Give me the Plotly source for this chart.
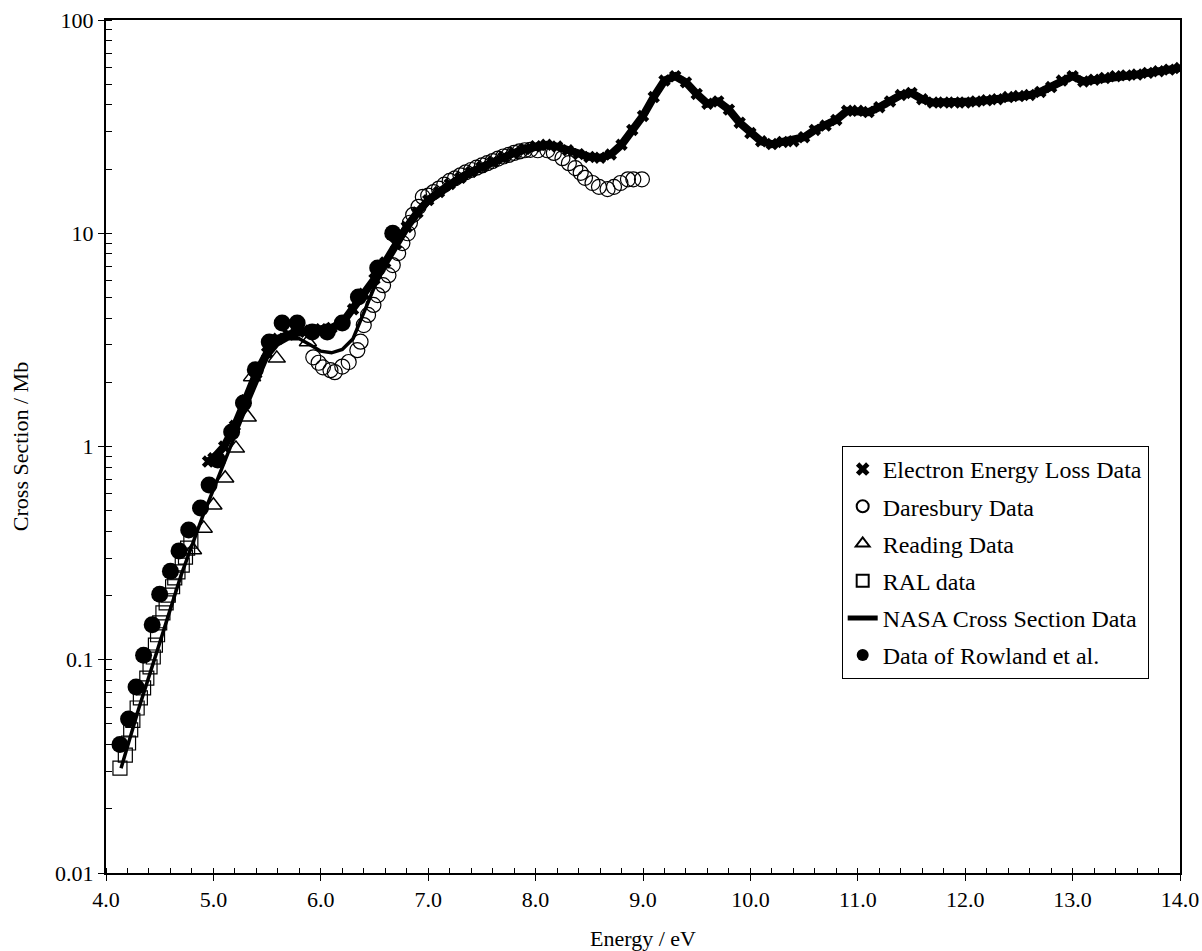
import plotly.graph_objects as go

# ---------------- data ----------------
eels_e = [4.95, 5.0, 5.1, 5.2, 5.3, 5.4, 5.5, 5.6, 5.7, 5.8, 5.9, 6.0, 6.1, 6.2, 6.3, 6.4, 6.5, 6.6, 6.7, 6.8,
          6.9, 7.0, 7.1, 7.2, 7.3, 7.4, 7.5, 7.6, 7.7, 7.8, 7.9, 8.0, 8.1, 8.2, 8.3, 8.4, 8.5, 8.6, 8.7, 8.8,
          8.9, 9.0, 9.1, 9.2, 9.3, 9.4, 9.5, 9.6, 9.7, 9.8, 9.9, 10.0, 10.1, 10.2, 10.3, 10.4, 10.5, 10.6,
          10.7, 10.8, 10.9, 11.0, 11.1, 11.2, 11.3, 11.4, 11.5, 11.6, 11.7, 11.8, 11.9, 12.0, 12.1, 12.2,
          12.3, 12.4, 12.5, 12.6, 12.7, 12.8, 12.9, 13.0, 13.1, 13.2, 13.3, 13.4, 13.5, 13.6, 13.7, 13.8,
          13.9, 14.0]
eels_s = [0.85, 0.88, 1.0, 1.25, 1.65, 2.2, 2.75, 3.2, 3.35, 3.45, 3.5, 3.55, 3.6, 3.8, 4.4, 5.2, 6.1, 7.3,
          8.9, 10.7, 12.5, 14.3, 15.6, 17.0, 18.2, 19.4, 20.5, 21.6, 22.7, 23.8, 24.8, 25.6, 26.0, 25.5,
          24.5, 23.5, 22.8, 22.6, 23.4, 26.0, 30.5, 35.5, 43.5, 52.0, 54.5, 51.0, 45.0, 40.5, 41.5, 38.0,
          33.0, 29.5, 27.0, 26.2, 26.8, 27.0, 28.2, 30.5, 32.0, 34.0, 37.5, 37.5, 37.0, 39.0, 41.5, 44.5,
          45.5, 42.5, 41.0, 41.0, 41.0, 41.0, 41.5, 42.0, 42.5, 43.5, 44.0, 44.5, 46.0, 48.5, 52.0, 54.5,
          51.5, 52.5, 53.5, 54.5, 55.0, 55.5, 56.5, 57.5, 58.5, 59.5]

dares_e = [5.93, 5.98, 6.02, 6.09, 6.13, 6.20, 6.26, 6.34, 6.37, 6.40, 6.44, 6.49, 6.53, 6.58, 6.63, 6.67,
           6.72, 6.76, 6.81, 6.83, 6.86, 6.91, 6.95, 7.0, 7.05, 7.1, 7.15, 7.2, 7.25, 7.3, 7.35, 7.4, 7.45,
           7.5, 7.55, 7.6, 7.65, 7.7, 7.75, 7.8, 7.85, 7.9, 7.95, 8.02, 8.11, 8.17, 8.25, 8.31, 8.37, 8.42,
           8.46, 8.53, 8.59, 8.67, 8.73, 8.79, 8.86, 8.91, 8.99]
dares_s = [2.62, 2.47, 2.35, 2.28, 2.23, 2.37, 2.49, 2.83, 3.1, 3.71, 4.14, 4.61, 5.13, 5.71, 6.36, 7.09,
           8.07, 8.99, 10.0, 11.2, 12.2, 13.3, 14.8, 15.0, 15.6, 16.2, 16.9, 17.6, 18.1, 18.7, 19.3, 19.8,
           20.3, 20.8, 21.3, 21.8, 22.4, 22.9, 23.3, 23.8, 24.2, 24.5, 24.6, 24.5, 24.5, 23.8, 22.5, 21.3,
           20.2, 19.2, 18.2, 17.2, 16.5, 16.1, 16.5, 17.2, 17.9, 17.9, 17.9]

reading_e = [4.81, 4.91, 5.0, 5.11, 5.21, 5.32, 5.36, 5.59, 5.88]
reading_s = [0.327, 0.413, 0.53, 0.71, 0.98, 1.37, 2.12, 2.59, 3.09]

ral_e = [4.13, 4.18, 4.21, 4.23, 4.25, 4.29, 4.32, 4.35, 4.38, 4.41, 4.44, 4.46, 4.48, 4.50, 4.53, 4.56,
         4.58, 4.62, 4.64, 4.67, 4.71, 4.74, 4.76, 4.79]
ral_s = [0.031, 0.0357, 0.0407, 0.0469, 0.052, 0.0594, 0.0662, 0.0738, 0.082, 0.0925, 0.103, 0.117, 0.131,
         0.149, 0.166, 0.185, 0.201, 0.22, 0.242, 0.258, 0.278, 0.303, 0.334, 0.36]

nasa_e = [4.14, 4.3, 4.5, 4.7, 4.9, 5.1, 5.3, 5.5, 5.6, 5.7, 5.8, 5.9, 6.0, 6.1, 6.2, 6.3, 6.4, 6.5, 6.6,
          6.7, 6.8, 6.9, 7.0, 7.2, 7.4, 7.6, 7.8, 8.0, 8.1]
nasa_s = [0.031, 0.058, 0.12, 0.25, 0.47, 0.85, 1.5, 2.6, 3.0, 3.2, 3.2, 3.0, 2.8, 2.75, 2.85, 3.2, 4.2,
          5.6, 7.0, 8.8, 10.5, 12.3, 13.8, 16.3, 18.8, 21.2, 23.3, 24.8, 25.0]

rowland_e = [4.13, 4.21, 4.28, 4.35, 4.43, 4.50, 4.60, 4.68, 4.77, 4.88, 4.96, 5.04, 5.17, 5.28, 5.39,
             5.52, 5.64, 5.78, 5.92, 6.06, 6.20, 6.35, 6.53, 6.67]
rowland_s = [0.040, 0.0527, 0.0745, 0.105, 0.146, 0.203, 0.26, 0.324, 0.406, 0.515, 0.66, 0.865, 1.17,
             1.60, 2.29, 3.09, 3.79, 3.79, 3.44, 3.44, 3.79, 5.02, 6.87, 10.0]

x_ticks = [4.0, 5.0, 6.0, 7.0, 8.0, 9.0, 10.0, 11.0, 12.0, 13.0, 14.0]
y_ticks = [0.01, 0.1, 1, 10, 100]
y_ticktext = ["0.01", "0.1", "1", "10", "100"]

FONT = "Liberation Serif, Times New Roman, serif"

fig = go.Figure()

fig.add_trace(go.Scatter(x=ral_e, y=ral_s, mode="markers", name="RAL data", legendrank=4, legendgroup="ral",
                         marker=dict(symbol="square-open", size=14, color="black", line=dict(width=1.2))))
fig.add_trace(go.Scatter(x=reading_e, y=reading_s, mode="markers", name="Reading Data", legendrank=3,
                         legendgroup="reading",
                         marker=dict(symbol="triangle-up-open", size=15, color="black", line=dict(width=1.5))))
fig.add_trace(go.Scatter(x=dares_e, y=dares_s, mode="markers", name="Daresbury Data", legendrank=2,
                         legendgroup="dares",
                         marker=dict(symbol="circle-open", size=15, color="black", line=dict(width=1.2))))
fig.add_trace(go.Scatter(x=nasa_e, y=nasa_s, mode="lines", name="NASA Cross Section Data", legendrank=5,
                         legendgroup="nasa", line=dict(color="black", width=3.5)))
fig.add_trace(go.Scatter(x=eels_e, y=eels_s, mode="lines", showlegend=False, hoverinfo="skip",
                         legendgroup="eels", line=dict(color="black", width=8)))
fig.add_trace(go.Scatter(x=eels_e, y=eels_s, mode="markers", name="Electron Energy Loss Data", legendrank=1,
                         legendgroup="eels", marker=dict(symbol="x", size=11, color="black")))
fig.add_trace(go.Scatter(x=rowland_e, y=rowland_s, mode="markers", name="Data of Rowland et al.", legendrank=6,
                         legendgroup="rowland", marker=dict(symbol="circle", size=17, color="black")))

fig.update_layout(
    width=1202, height=951,
    margin=dict(l=106, r=22, t=20, b=78, autoexpand=False),
    paper_bgcolor="white", plot_bgcolor="white",
    font=dict(family=FONT, size=22, color="black"),
    showlegend=True,
    legend=dict(x=0.685, y=0.5006, xanchor="left", yanchor="top",
                bgcolor="white", bordercolor="black", borderwidth=1,
                font=dict(family=FONT, size=24, color="black"),
                itemsizing="constant", traceorder="grouped", tracegroupgap=3),
)

fig.update_xaxes(
    range=[4, 14], tickvals=x_ticks, tickformat=".1f", automargin=False,
    showgrid=False, zeroline=False,
    showline=True, linecolor="black", linewidth=2, mirror=True,
    ticks="outside", ticklen=6, tickwidth=1, tickcolor="black",
    minor=dict(ticks="inside", ticklen=5, tickwidth=1, tickcolor="black", dtick=0.2, showgrid=False),
    tickfont=dict(family=FONT, size=22, color="black"),
    title=dict(text="Energy / eV", font=dict(family=FONT, size=22, color="black"), standoff=20),
)
fig.update_yaxes(
    type="log", range=[-2, 2], tickvals=y_ticks, ticktext=y_ticktext, automargin=False,
    showgrid=False, zeroline=False,
    showline=True, linecolor="black", linewidth=2, mirror=True,
    ticks="outside", ticklen=6, tickwidth=1, tickcolor="black",
    minor=dict(ticks="inside", ticklen=6, tickwidth=1, tickcolor="black", dtick="D1", showgrid=False),
    tickfont=dict(family=FONT, size=22, color="black"),
    title=dict(text="Cross Section / Mb", font=dict(family=FONT, size=22, color="black"), standoff=20),
)

fig.write_html("out.html")
